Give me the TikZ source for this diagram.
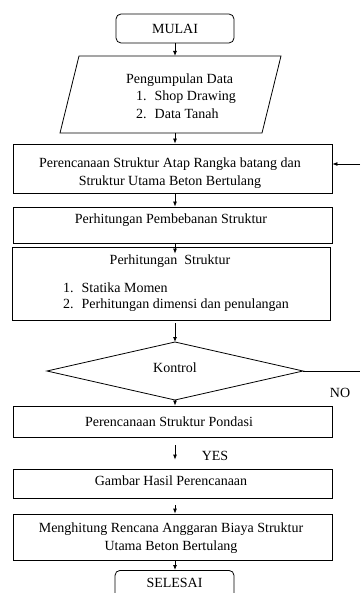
\documentclass[tikz,border=0pt]{standalone}
\usepackage{fontspec}
\setmainfont{Liberation Serif}
\usetikzlibrary{arrows.meta,shapes.geometric}
\tikzset{
  box/.style={draw, line width=0.8pt, inner sep=0pt, align=center},
  term/.style={box, rounded corners=5pt},
  txt/.style={inner sep=0pt, align=left},
  arr/.style={line width=0.8pt, -{Latex[length=5pt,width=4pt]}},
  ln/.style={line width=0.8pt}
}
\begin{document}
\begin{tikzpicture}[x=1pt,y=-1pt,font=\fontsize{14}{17.5}\selectfont]
\useasboundingbox (0,0) rectangle (360,593);
\clip (0,0) rectangle (360,593);
% terminals
\node[term, minimum width=118pt, minimum height=29pt] (start) at (175,28.5) {MULAI};
% parallelogram
\draw[ln] (79,56) -- (281,56) -- (262,133) -- (60,133) -- cycle;
\coordinate (pt) at (175,56);
\coordinate (pb) at (175,133);
\node[txt, anchor=west] (p0) at (126,80) {Pengumpulan Data};
\node[txt, anchor=west] (p1) at (136,97) {1.\hspace{8pt}Shop Drawing};
\node[txt, anchor=west] (p2) at (136,113.5) {2.\hspace{8pt}Data Tanah};
% box 1
\node[box, minimum width=319pt, minimum height=49pt] (b1) at (172.5,168.5) {};
\node[txt, align=center] (b1t) at (170,173) {Perencanaan Struktur Atap Rangka batang dan\\Struktur Utama Beton Bertulang};
% box 2
\node[box, minimum width=319pt, minimum height=36pt] (b2) at (172.5,225) {};
\node[txt] (b2t) at (171,220) {Perhitungan Pembebanan Struktur};
% box 3
\node[box, minimum width=318pt, minimum height=73pt] (b3) at (171,283.5) {};
\node[txt] (b3t) at (170,261) {Perhitungan\ \ Struktur};
\node[txt, anchor=west] (b3a) at (63,288) {1.\hspace{8pt}Statika Momen};
\node[txt, anchor=west] (b3b) at (63,305) {2.\hspace{8pt}Perhitungan dimensi dan penulangan};
% diamond
\draw[ln] (175,342) -- (303,371) -- (175,400) -- (47,371) -- cycle;
\coordinate (dt) at (175,342);
\coordinate (db) at (175,400);
\coordinate (dr) at (303,371);
\node[txt] (kt) at (175,368) {Kontrol};
% box 4
\node[box, minimum width=319pt, minimum height=31pt] (b4) at (172.5,421.5) {};
\node[txt] (b4t) at (169,421.5) {Perencanaan Struktur Pondasi};
% box 5
\node[box, minimum width=319pt, minimum height=29pt] (b5) at (172.5,483.5) {};
\node[txt] (b5t) at (171,481) {Gambar Hasil Perencanaan};
% box 6
\node[box, minimum width=319pt, minimum height=46pt] (b6) at (172.5,537) {};
\node[txt, align=center] (b6t) at (171,538) {Menghitung Rencana Anggaran Biaya Struktur\\Utama Beton Bertulang};
% end
\node[term, minimum width=119pt, minimum height=30pt, anchor=north] (stop) at (174.5,570) {};
\node[txt] (stopt) at (174.5,583) {SELESAI};
% labels
\node[txt] (no) at (340,393) {NO};
\node[txt] (yes) at (215,456) {YES};
% connectors
\coordinate (fb) at (360,164);
\coordinate (nr) at (360,371);
\draw[arr] (start.south -| pt) -- (pt);
\draw[arr] (pb) -- (b1.north -| pb);
\draw[arr] (b1.south -| pb) -- (b2.north -| pb);
\draw[arr] (b2.south -| pb) -- ([yshift=-7pt]b3.north -| pb);
\draw[arr] ([yshift=-3pt]b3.south -| pb) -- (dt);
\draw[arr] (db) -- (b4.north -| db);
\draw[arr] ([yshift=-8pt]b4.south -| db) -- ([yshift=9pt]b5.north -| db);
\draw[arr] ([yshift=-7pt]b5.south -| db) -- (b6.north -| db);
\draw[arr] (b6.south -| db) -- (stop.north -| db);
\draw[arr] (fb) -- (fb -| b1.east);
\draw[ln] (dr) -- (nr);
\end{tikzpicture}
\end{document}
